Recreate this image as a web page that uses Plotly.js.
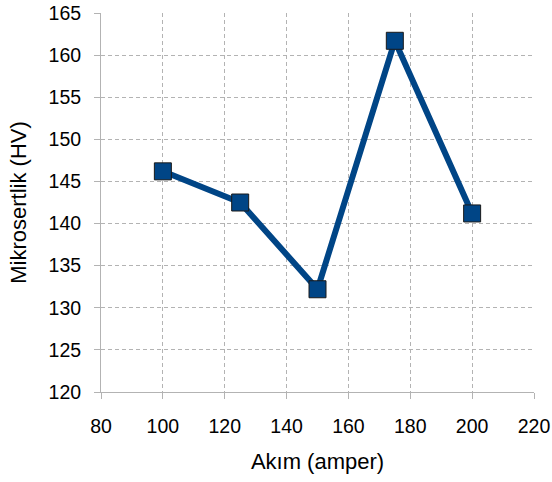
<!DOCTYPE html>
<html><head><meta charset="utf-8">
<script src="https://cdn.plot.ly/plotly-3.0.1.min.js"></script>
<style>body{margin:0;background:#fff}#c{width:552px;height:482px}</style>
</head><body><div id="c"></div>
<script>
const current = [100, 125, 150, 175, 200];
const hardness = [146.2, 142.5, 132.2, 161.7, 141.2];
const xTicks = [80, 100, 120, 140, 160, 180, 200, 220];
const yTicks = [120, 125, 130, 135, 140, 145, 150, 155, 160, 165];

const trace = {
  x: current, y: hardness, type: 'scatter', mode: 'lines+markers',
  line: {color: '#004586', width: 6},
  marker: {symbol: 'square', size: 17, color: '#004586', line: {color: '#1a1a1a', width: 1}},
  showlegend: false, cliponaxis: false
};
const fam = 'Liberation Sans, Arial, sans-serif';
const tickFont = {family: fam, size: 19.5, color: '#000'};
const titleFont = {family: fam, size: 22, color: '#000'};
const layout = {
  width: 552, height: 482,
  margin: {l: 101, r: 18, t: 13, b: 90},
  paper_bgcolor: '#fff', plot_bgcolor: '#fff',
  font: tickFont,
  xaxis: {
    range: [80, 220], tickvals: xTicks, ticktext: xTicks.map(String),
    showgrid: true, gridcolor: '#b3b3b3', griddash: '4px,3px', gridwidth: 1,
    zeroline: false, showline: true, linecolor: '#b3b3b3', linewidth: 1,
    ticks: 'outside', ticklen: 6, tickcolor: '#b3b3b3',
    tickfont: tickFont, ticklabelstandoff: 11,
    title: {text: 'Akım (amper)', font: titleFont, standoff: 17}
  },
  yaxis: {
    range: [120, 165], tickvals: yTicks, ticktext: yTicks.map(String),
    showgrid: true, gridcolor: '#b3b3b3', griddash: '4px,3px', gridwidth: 1,
    zeroline: false, showline: true, linecolor: '#b3b3b3', linewidth: 1,
    ticks: 'outside', ticklen: 6, tickcolor: '#b3b3b3',
    tickfont: tickFont, ticklabelstandoff: 9,
    title: {text: 'Mikrosertlik (HV)', font: titleFont, standoff: 15}
  }
};
Plotly.newPlot('c', [trace], layout, {displayModeBar: false, staticPlot: true});
</script></body></html>
